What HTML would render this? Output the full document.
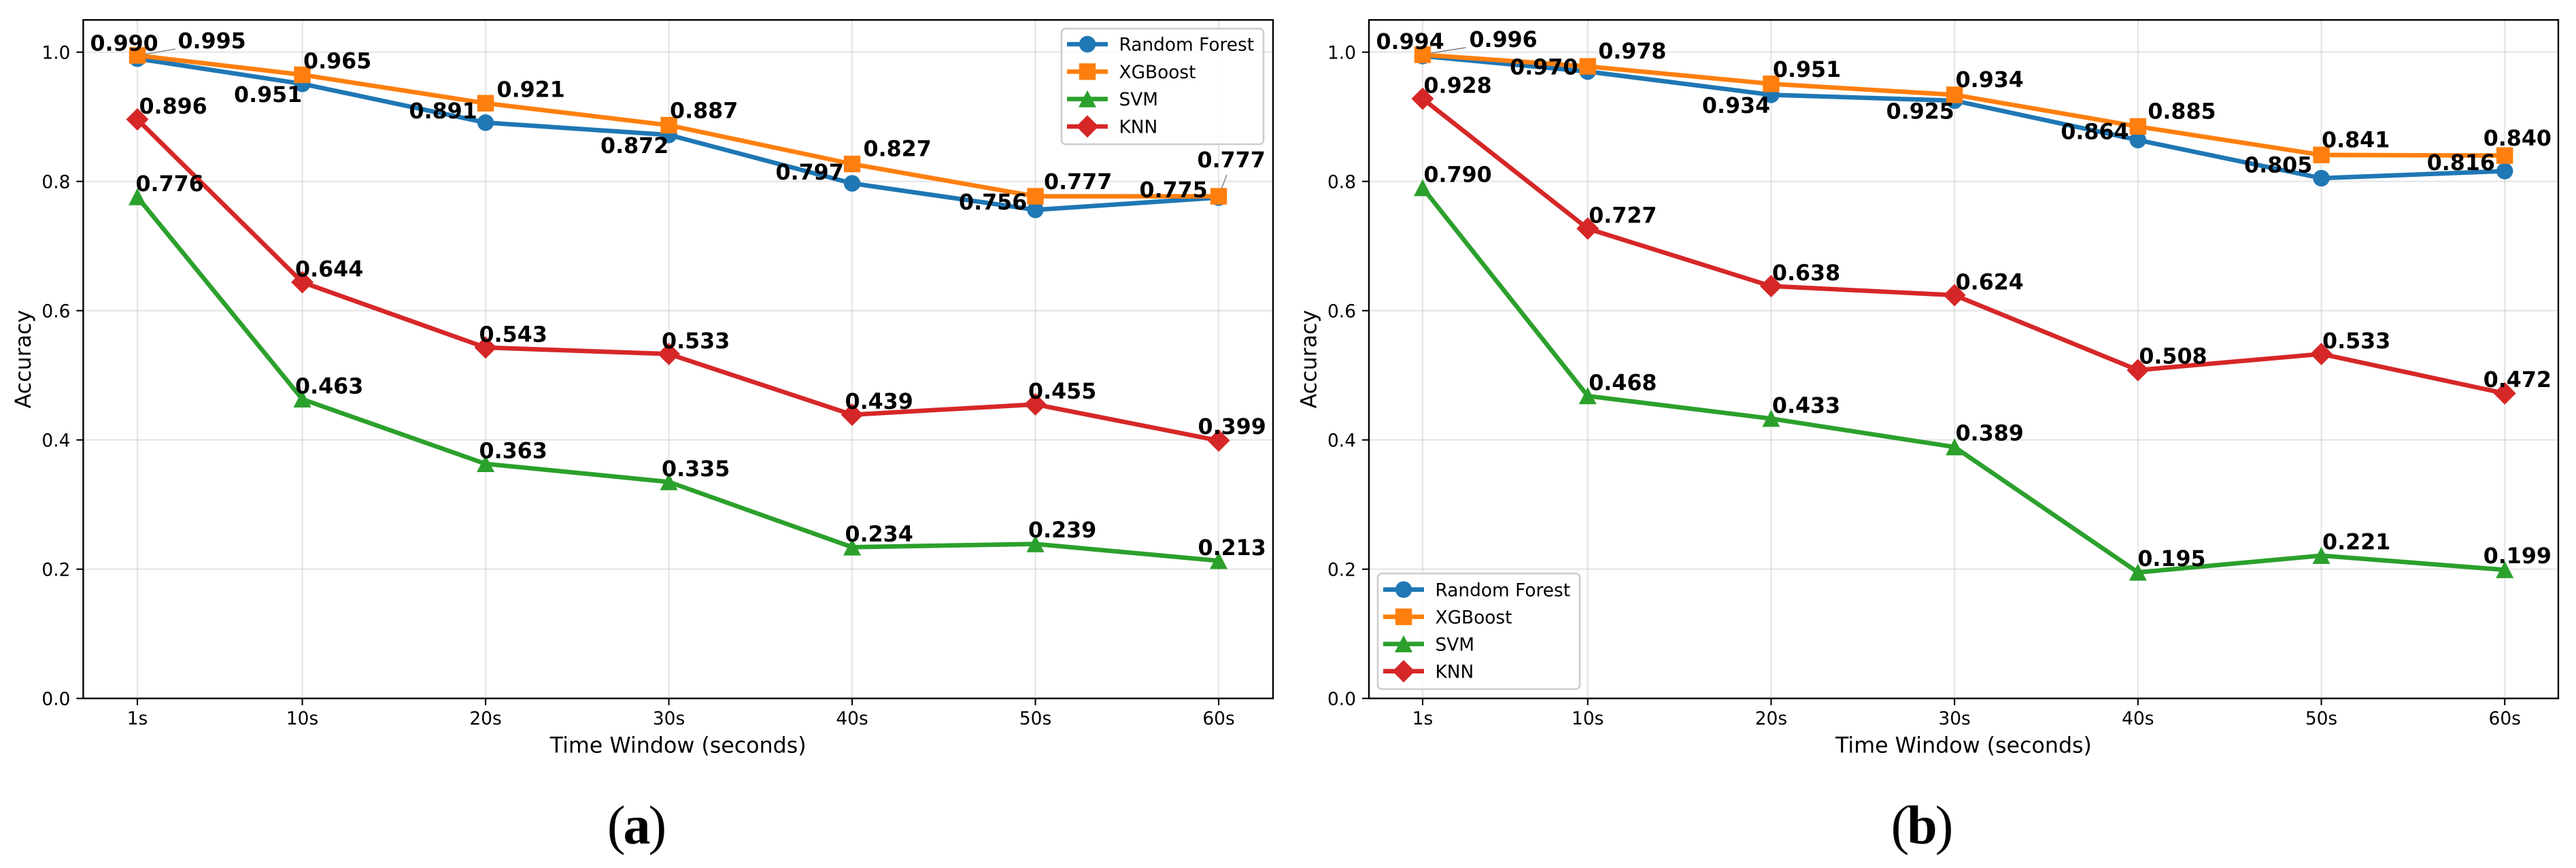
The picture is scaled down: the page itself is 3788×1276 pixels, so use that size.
<!DOCTYPE html>
<html lang="en">
<head>
<meta charset="utf-8">
<title>Accuracy by time window</title>
<style>
  html, body { margin: 0; padding: 0; background: #ffffff; }
  #figure { display: block; width: 3788px; height: 1276px; }
  text { font-family: "DejaVu Sans", "Liberation Sans", sans-serif; fill: #000000; }
  .tick-text { font-size: 26.4px; }
  .axis-text { font-size: 31.7px; }
  .value-text { font-size: 31.7px; font-weight: 700; }
  .legend-text { font-size: 26.4px; }
  .caption-text { font-family: "Liberation Serif", serif; font-size: 80px; letter-spacing: -3px; }
</style>
</head>
<body>
<svg id="figure" xmlns="http://www.w3.org/2000/svg" width="3788" height="1276" viewBox="0 0 3788 1276">
  <rect x="0" y="0" width="3788" height="1276" fill="#ffffff"></rect>
  <text class="caption-text" x="935" y="1240" text-anchor="middle">(<tspan font-weight="700">a</tspan>)</text>
  <text class="caption-text" x="2825" y="1240" text-anchor="middle">(<tspan font-weight="700">b</tspan>)</text>
</svg>
<script>
// ---- shared axis data ----
const timeSeconds = [1, 10, 20, 30, 40, 50, 60];
const xTickLabels = ["1s", "10s", "20s", "30s", "40s", "50s", "60s"];
const yTickValues = [0.0, 0.2, 0.4, 0.6, 0.8, 1.0];

// ---- panel (a) values ----
const rfAccuracyA  = [0.990, 0.951, 0.891, 0.872, 0.797, 0.756, 0.775];
const xgbAccuracyA = [0.995, 0.965, 0.921, 0.887, 0.827, 0.777, 0.777];
const svmAccuracyA = [0.776, 0.463, 0.363, 0.335, 0.234, 0.239, 0.213];
const knnAccuracyA = [0.896, 0.644, 0.543, 0.533, 0.439, 0.455, 0.399];

// ---- panel (b) values ----
const rfAccuracyB  = [0.994, 0.970, 0.934, 0.925, 0.864, 0.805, 0.816];
const xgbAccuracyB = [0.996, 0.978, 0.951, 0.934, 0.885, 0.841, 0.840];
const svmAccuracyB = [0.790, 0.468, 0.433, 0.389, 0.195, 0.221, 0.199];
const knnAccuracyB = [0.928, 0.727, 0.638, 0.624, 0.508, 0.533, 0.472];

// ---- label nudges relative to each point (layout only, not data) ----
const nudgeRfA  = [[-68,-23],[-99,15],[-111,-18],[-99,15],[-111,-17],[-111,-12],[-115,-12]];
const nudgeXgbA = [[61,-22],[3,-21],[18,-21],[3,-22],[18,-23],[14,-22],[-30,-54]];
const nudgeSvmA = [[-1,-20],[-9,-20],[-8,-20],[-9,-20],[-9,-20],[-9,-21],[-29,-20]];
const nudgeKnnA = [[4,-20],[-9,-20],[-8,-20],[-9,-20],[-9,-20],[-9,-20],[-29,-21]];
const nudgeRfB  = [[-67,-22],[-113,-7],[-100,15],[-99,15],[-112,-13],[-112,-20],[-113,-13]];
const nudgeXgbB = [[70,-23],[17,-23],[4,-22],[3,-23],[16,-23],[2,-23],[-30,-26]];
const nudgeSvmB = [[3,-20],[3,-20],[3,-20],[3,-21],[1,-21],[3,-21],[-30,-21]];
const nudgeKnnB = [[3,-20],[3,-20],[3,-20],[3,-20],[3,-21],[3,-20],[-30,-21]];

const SVG_NS = "http://www.w3.org/2000/svg";
const figure = document.getElementById("figure");
const Y_PER_UNIT = 950;
const Y_ZERO = 1026.7;
const AXES_TOP = 29.3;
const X_MIN = 1;

function yScale(v) { return Y_ZERO - v * Y_PER_UNIT; }
function xScale(panel, t) { return panel.xFirst + (t - X_MIN) * panel.xUnit; }

function make(parent, tag, props) {
  const el = document.createElementNS(SVG_NS, tag);
  for (const k in props) el.setAttribute(k, props[k]);
  parent.appendChild(el);
  return el;
}

function drawMarker(parent, shape, cx, cy, color) {
  if (shape === "circle") {
    return make(parent, "circle", { cx: cx, cy: cy, r: 12.2, fill: color });
  }
  if (shape === "square") {
    return make(parent, "rect", { x: cx - 12.2, y: cy - 12.2, width: 24.4, height: 24.4, fill: color });
  }
  if (shape === "triangle") {
    return make(parent, "polygon", { points: cx + "," + (cy - 13) + " " + (cx + 13) + "," + (cy + 12.2) + " " + (cx - 13) + "," + (cy + 12.2), fill: color });
  }
  return make(parent, "polygon", { points: cx + "," + (cy - 16.5) + " " + (cx + 16.5) + "," + cy + " " + cx + "," + (cy + 16.5) + " " + (cx - 16.5) + "," + cy, fill: color });
}

function drawPanel(panel) {
  const g = make(figure, "g", {});
  
  

  // grid
  const grid = make(g, "g", { stroke: "#b0b0b0", "stroke-opacity": 0.3, "stroke-width": 2.4 });
  
  
  timeSeconds.forEach(function (t) {
    const x = xScale(panel, t);
    const line = make(grid, "line", { x1: x, x2: x, y1: AXES_TOP, y2: Y_ZERO });
    
    
  });
  yTickValues.forEach(function (v) {
    const y = yScale(v);
    const line = make(grid, "line", { x1: panel.left, x2: panel.right, y1: y, y2: y });
    
    
  });

  // series lines and markers
  panel.series.forEach(function (s) {
    const sg = make(g, "g", {});
    
    
    const pts = s.values.map(function (v, i) { return xScale(panel, timeSeconds[i]) + "," + yScale(v); }).join(" ");
    const path = make(sg, "polyline", { points: pts, fill: "none", stroke: s.color, "stroke-width": 6.6, "stroke-linejoin": "round", "stroke-linecap": "round" });
    
    
    s.values.forEach(function (v, i) {
      const mark = drawMarker(sg, s.shape, xScale(panel, timeSeconds[i]), yScale(v), s.color);
      
      
    });
  });

  // leader lines
  panel.leaders.forEach(function (l) {
    const px = xScale(panel, timeSeconds[l.index]);
    const py = yScale(l.series.values[l.index]);
    const seg = make(g, "line", { x1: px + l.from[0], y1: py + l.from[1], x2: px + l.to[0], y2: py + l.to[1], stroke: "#808080", "stroke-width": 1.4 });
    
    
  });

  // printed values
  panel.series.forEach(function (s) {
    s.values.forEach(function (v, i) {
      const txt = make(g, "text", {
        class: "value-text",
        x: xScale(panel, timeSeconds[i]) + s.nudge[i][0] - 1.5,
        y: yScale(v) + s.nudge[i][1] + 11.5
      });
      txt.textContent = v.toFixed(3);
      
      
    });
  });

  // spines
  const frame = make(g, "rect", { x: panel.left, y: AXES_TOP, width: panel.right - panel.left, height: Y_ZERO - AXES_TOP, fill: "none", stroke: "#000000", "stroke-width": 2.4 });
  
  

  // x axis
  timeSeconds.forEach(function (t, i) {
    const x = xScale(panel, t);
    const tick = make(g, "line", { x1: x, x2: x, y1: Y_ZERO, y2: Y_ZERO + 10, stroke: "#000000", "stroke-width": 2.1 });
    
    
    const lab = make(g, "text", { class: "tick-text", x: x, y: 1065, "text-anchor": "middle" });
    lab.textContent = xTickLabels[i];
    
    
  });

  // y axis
  yTickValues.forEach(function (v) {
    const y = yScale(v);
    const tick = make(g, "line", { x1: panel.left - 10, x2: panel.left, y1: y, y2: y, stroke: "#000000", "stroke-width": 2.1 });
    
    
    const lab = make(g, "text", { class: "tick-text", x: panel.left - 19, y: y + 9.6, "text-anchor": "end" });
    lab.textContent = v.toFixed(1);
    
    
  });

  // axis titles
  const xTitle = make(g, "text", { class: "axis-text", x: (panel.left + panel.right) / 2, y: 1106.7, "text-anchor": "middle" });
  xTitle.textContent = "Time Window (seconds)";
  
  
  const yTitleX = panel.left - 77.6;
  const yTitleY = (AXES_TOP + Y_ZERO) / 2;
  const yTitle = make(g, "text", { class: "axis-text", x: yTitleX, y: yTitleY, "text-anchor": "middle", transform: "rotate(-90 " + yTitleX + " " + yTitleY + ")" });
  yTitle.textContent = "Accuracy";
  
  

  // legend
  const lg = make(g, "g", {});
  
  
  const L = panel.legend;
  const box = make(lg, "rect", { x: L.x, y: L.y, width: L.w, height: L.h, rx: 6, ry: 6, fill: "#ffffff", "fill-opacity": 0.8, stroke: "#cccccc", "stroke-width": 2.6 });
  
  
  panel.series.forEach(function (s, i) {
    const cy = L.rowTop + i * L.rowStep;
    const entry = make(lg, "g", {});
    
    
    make(entry, "line", { x1: L.x + 8, x2: L.x + 68, y1: cy, y2: cy, stroke: s.color, "stroke-width": 6.6 });
    drawMarker(entry, s.shape, L.x + 38, cy, s.color);
    const t = make(entry, "text", { class: "legend-text", x: L.x + 84.5, y: cy + 9.6 });
    t.textContent = s.name;
  });
}

const SERIES_STYLE = {
  rf:  { name: "Random Forest", color: "#1f77b4", shape: "circle" },
  xgb: { name: "XGBoost",       color: "#ff7f0e", shape: "square" },
  svm: { name: "SVM",           color: "#2ca02c", shape: "triangle" },
  knn: { name: "KNN",           color: "#d62728", shape: "diamond" }
};

function buildSeries(key, values, nudge) {
  const st = SERIES_STYLE[key];
  return { key: key, name: st.name, color: st.color, shape: st.shape, values: values, nudge: nudge };
}

const seriesA = [
  buildSeries("rf", rfAccuracyA, nudgeRfA),
  buildSeries("xgb", xgbAccuracyA, nudgeXgbA),
  buildSeries("svm", svmAccuracyA, nudgeSvmA),
  buildSeries("knn", knnAccuracyA, nudgeKnnA)
];
const seriesB = [
  buildSeries("rf", rfAccuracyB, nudgeRfB),
  buildSeries("xgb", xgbAccuracyB, nudgeXgbB),
  buildSeries("svm", svmAccuracyB, nudgeSvmB),
  buildSeries("knn", knnAccuracyB, nudgeKnnB)
];

drawPanel({
  id: "a", left: 122.4, right: 1872, xFirst: 202, xUnit: 26.95, series: seriesA,
  leaders: [
    { series: seriesA[1], index: 0, from: [11.5, -1.8], to: [56, -9.4] },
    { series: seriesA[1], index: 6, from: [4, -10.5], to: [12, -31.5] }
  ],
  legend: { x: 1561, y: 42, w: 297, h: 170, rowTop: 65, rowStep: 40.3 }
});
drawPanel({
  id: "b", left: 2013, right: 3762, xFirst: 2092, xUnit: 26.97, series: seriesB,
  leaders: [
    { series: seriesB[1], index: 0, from: [12.6, -2.5], to: [63.6, -10.5] }
  ],
  legend: { x: 2026, y: 843, w: 297, h: 170, rowTop: 866.7, rowStep: 40 }
});
</script>
</body>
</html>
